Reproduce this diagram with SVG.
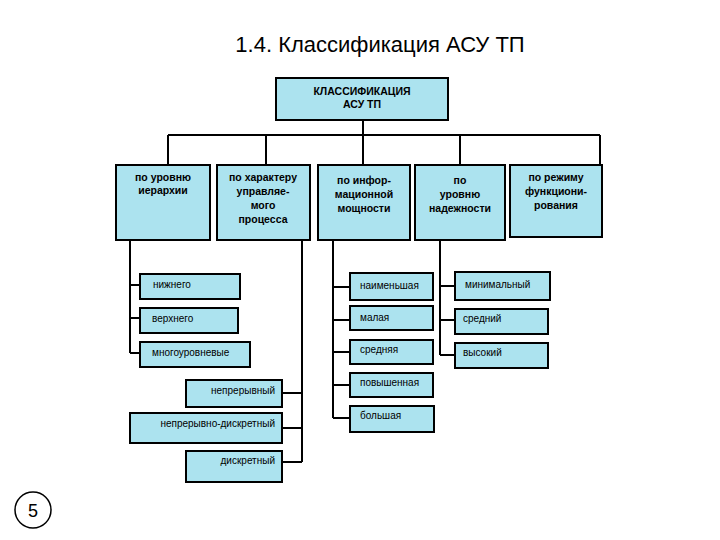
<svg xmlns="http://www.w3.org/2000/svg" width="720" height="540" viewBox="0 0 720 540">
<style>
.b{fill:#ace3ef;stroke:#000;stroke-width:2}
.t{font-family:"Liberation Sans",Arial,sans-serif;font-size:10px;fill:#000}
.h{font-weight:bold;text-anchor:middle;font-size:10.5px}
#conn path{fill:none;stroke:#000;stroke-width:2}
</style>
<rect width="720" height="540" fill="#fff"/>
<text x="380" y="52" text-anchor="middle" font-family="Liberation Sans,Arial,sans-serif" font-size="22">1.4. Классификация  АСУ ТП</text>
<g id="conn">
<path d="M363 120V165M168 135H600M168 135V165M266 135V165M460 135V165M600 135V165"/>
<path d="M130 240V353M130 285H140M130 318H140M130 353H140"/>
<path d="M302 240V462M282 393H302M282 428H302M282 462H302"/>
<path d="M333 240V418M333 287H350M333 320H350M333 352H350M333 385H350M333 418H350"/>
<path d="M440 240V355M440 286H455M440 320H455M440 355H455"/>
</g>
<g id="root"><rect class="b" x="276" y="78" width="172" height="42"/><text class="t h" x="362" y="95">КЛАССИФИКАЦИЯ</text><text class="t h" x="362" y="108">АСУ ТП</text></g>
<g id="c1"><rect class="b" x="116" y="165" width="94" height="75"/><text class="t h" x="163" y="181">по уровню</text><text class="t h" x="163" y="194">иерархии</text></g>
<g id="c2"><rect class="b" x="217" y="165" width="93" height="75"/><text class="t h" x="263" y="181">по характеру</text><text class="t h" x="263" y="195">управляе-</text><text class="t h" x="263" y="209">мого</text><text class="t h" x="263" y="223">процесса</text></g>
<g id="c3"><rect class="b" x="318" y="165" width="92" height="75"/><text class="t h" x="364" y="184">по инфор-</text><text class="t h" x="364" y="198">мационной</text><text class="t h" x="364" y="212">мощности</text></g>
<g id="c4"><rect class="b" x="415" y="165" width="90" height="75"/><text class="t h" x="460" y="184">по</text><text class="t h" x="460" y="198">уровню</text><text class="t h" x="460" y="212">надежности</text></g>
<g id="c5"><rect class="b" x="510" y="165" width="92" height="72"/><text class="t h" x="556" y="181">по режиму</text><text class="t h" x="556" y="195">функциони-</text><text class="t h" x="556" y="209">рования</text></g>
<g id="n1"><rect class="b" x="140" y="274" width="100" height="25"/><text class="t" x="153" y="288">нижнего</text></g>
<g id="n2"><rect class="b" x="140" y="308" width="98" height="25"/><text class="t" x="152" y="322">верхнего</text></g>
<g id="n3"><rect class="b" x="140" y="342" width="110" height="25"/><text class="t" x="152" y="356">многоуровневые</text></g>
<g id="n4"><rect class="b" x="186" y="380" width="96" height="27"/><text class="t" x="275" y="394" text-anchor="end">непрерывный</text></g>
<g id="n5"><rect class="b" x="130" y="413" width="152" height="30"/><text class="t" x="275" y="427" text-anchor="end">непрерывно-дискретный</text></g>
<g id="n6"><rect class="b" x="186" y="451" width="96" height="31"/><text class="t" x="275" y="464" text-anchor="end">дискретный</text></g>
<g id="m1"><rect class="b" x="350" y="273" width="83" height="27"/><text class="t" x="360" y="289">наименьшая</text></g>
<g id="m2"><rect class="b" x="350" y="306" width="83" height="24"/><text class="t" x="360" y="321">малая</text></g>
<g id="m3"><rect class="b" x="350" y="340" width="83" height="24"/><text class="t" x="360" y="353">средняя</text></g>
<g id="m4"><rect class="b" x="350" y="373" width="83" height="24"/><text class="t" x="360" y="386">повышенная</text></g>
<g id="m5"><rect class="b" x="350" y="406" width="84" height="26"/><text class="t" x="360" y="419">большая</text></g>
<g id="r1"><rect class="b" x="455" y="272" width="95" height="28"/><text class="t" x="465" y="288">минимальный</text></g>
<g id="r2"><rect class="b" x="455" y="309" width="93" height="25"/><text class="t" x="463" y="322">средний</text></g>
<g id="r3"><rect class="b" x="455" y="343" width="93" height="25"/><text class="t" x="463" y="356">высокий</text></g>
<g id="page"><circle cx="33" cy="510" r="18" fill="#fff" stroke="#000" stroke-width="1.5"/><text x="33" y="517" text-anchor="middle" font-family="Liberation Sans,Arial,sans-serif" font-size="18">5</text></g>
</svg>
